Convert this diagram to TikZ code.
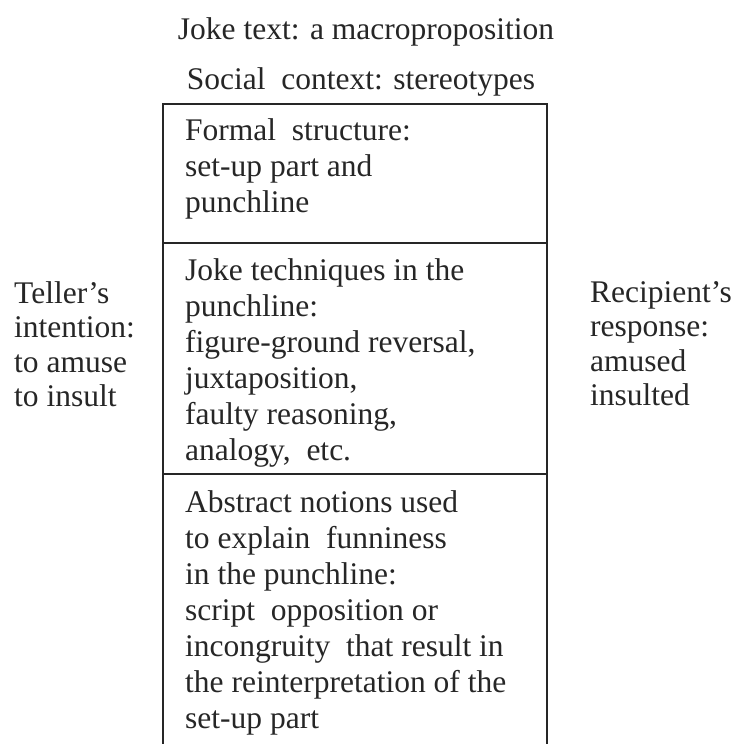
\documentclass[tikz,border=0pt]{standalone}
\usepackage{fontspec}
\setmainfont{Liberation Serif}
\begin{document}
\begin{tikzpicture}[x=1pt,y=-1pt,
  txt/.style={inner sep=0pt, anchor=north west, align=left, text=black!85,
    font=\fontsize{31.5}{36}\selectfont},
  sidetxt/.style={txt, font=\fontsize{31.5}{34.5}\selectfont},
  title/.style={inner sep=0pt, anchor=base, text=black!85, font=\fontsize{31.5}{36}\selectfont},
  frame/.style={line width=1.3pt, draw=black!85}]
\useasboundingbox (0,0) rectangle (735,744);
% titles
\node[title] (joke) at (366,39) {Joke text: a macroproposition};
\node[title] (social) at (361,89) {Social~ context: stereotypes};
% box frame
\coordinate (bl) at (163,744);
\coordinate (tl) at (163,104);
\coordinate (tr) at (547,104);
\coordinate (br) at (547,744);
\coordinate (d1l) at (163,243);
\coordinate (d1r) at (547,243);
\coordinate (d2l) at (163,474);
\coordinate (d2r) at (547,474);
\draw[frame] (bl) -- (tl) -- (tr) -- (br);
\draw[frame] (d1l) -- (d1r);
\draw[frame] (d2l) -- (d2r);
% box texts
\node[txt] (formal) at (185,115) {\rule{0pt}{25pt}Formal~ structure:\\set-up part and\\punchline};
\node[txt] (tech) at (185,255) {\rule{0pt}{25pt}Joke techniques in the\\punchline:\\figure-ground reversal,\\juxtaposition,\\faulty reasoning,\\analogy,~ etc.};
\node[txt] (abstract) at (185,487) {\rule{0pt}{25pt}Abstract notions used\\to explain~ funniness\\in the punchline:\\script~ opposition or\\incongruity~ that result in\\the reinterpretation of the\\set-up part};
% side texts
\node[sidetxt] (teller) at (14,278) {\rule{0pt}{25pt}Teller's\\intention:\\to amuse\\to insult};
\node[sidetxt] (recip) at (590,277) {\rule{0pt}{25pt}Recipient's\\response:\\amused\\insulted};
\end{tikzpicture}
\end{document}
